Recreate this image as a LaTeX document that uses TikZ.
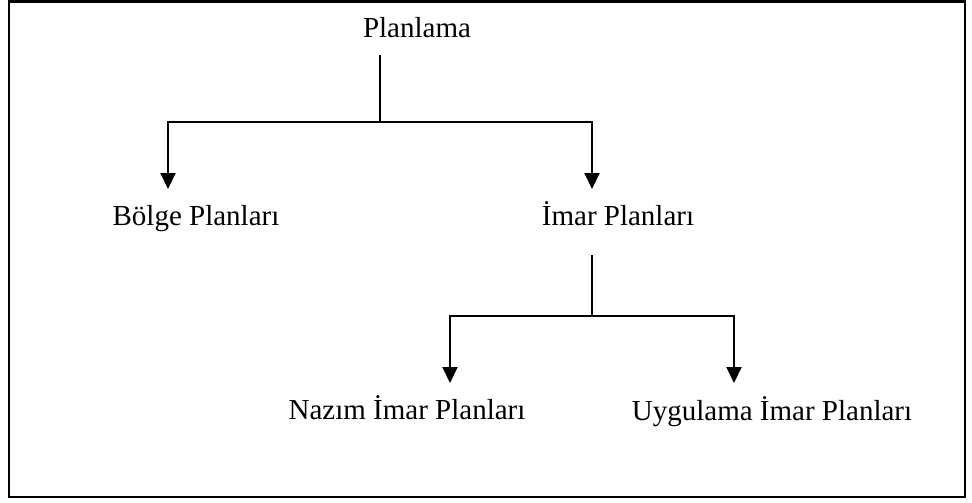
\documentclass[tikz,border=0pt]{standalone}
\usepackage{fontspec}
\setmainfont{Liberation Serif}
\usepackage{tikz}
\usetikzlibrary{arrows.meta,positioning,calc}

\begin{document}
\begin{tikzpicture}[x=0.4pt,y=-0.4pt,font=\fontsize{11.6}{14}\selectfont,
   lbl/.style={inner sep=0pt,anchor=base},
   ln/.style={line width=0.8pt},
   arr/.style={ln,-{Triangle[width=6pt,length=6.4pt]}}]
  \useasboundingbox (0,0) rectangle (972,502);
  \draw[line width=1pt] (9,1.5) rectangle (965,497);
  % text
  \node[lbl] (plan) at (417,37) {Planlama};
  \node[lbl] (bolge) at (196,225) {Bölge Planları};
  \node[lbl] (imar) at (618,225) {İmar Planları};
  \node[lbl] (nazim) at (407,419) {Nazım İmar Planları};
  \node[lbl] (uyg) at (772,420) {Uygulama İmar Planları};
  % branch points
  \coordinate (p1) at (380,55);
  \coordinate (j1) at (380,122);
  \coordinate (b1) at (168,189);
  \coordinate (i1) at (592,189);
  \coordinate (p2) at (592,255);
  \coordinate (j2) at (592,316);
  \coordinate (n1) at (450,383);
  \coordinate (u1) at (734,383);
  \draw[ln] (p1)--(j1);
  \draw[arr] (j1) -| (b1);
  \draw[arr] (j1) -| (i1);
  \draw[ln] (p2)--(j2);
  \draw[arr] (j2) -| (n1);
  \draw[arr] (j2) -| (u1);
\end{tikzpicture}
\end{document}
